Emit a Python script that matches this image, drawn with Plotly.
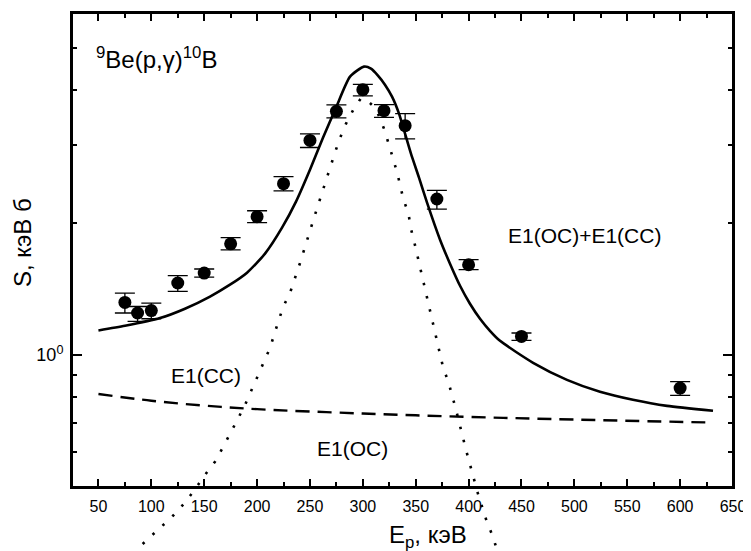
import math
import plotly.graph_objects as go

# ---------------- data ----------------
x_exp = [75, 87, 100, 125, 150, 175, 200, 225, 250, 275, 300, 320, 340, 370, 400, 450, 600]
s_exp = [1.316, 1.245, 1.261, 1.457, 1.535, 1.789, 2.063, 2.452, 3.077, 3.583, 4.015, 3.596,
         3.324, 2.263, 1.603, 1.101, 0.840]
s_hi = [1.382, 1.288, 1.311, 1.514, 1.568, 1.848, 2.128, 2.544, 3.184, 3.706, 4.129, 3.71,
        3.54, 2.367, 1.646, 1.121, 0.869]
s_lo = [1.245, 1.191, 1.208, 1.394, 1.503, 1.734, 2.0, 2.362, 2.964, 3.461, 3.886, 3.47,
        3.10, 2.147, 1.562, 1.078, 0.808]

x_total = [50, 75.1, 108.2, 131.8, 155.5, 174.4, 190.5, 207.5, 223.6, 236.8, 250, 262.3,
           274.6, 287.9, 301.1, 307.7, 314.3, 320.9, 327.6, 334.2, 339.9, 345.5, 353.1,
           360.7, 373, 382.4, 391.9, 401.3, 410.8, 420.2, 429.7, 461, 493, 524.2, 555.4,
           587.6, 631.1]
s_total = [1.136, 1.164, 1.212, 1.273, 1.357, 1.444, 1.538, 1.699, 1.947, 2.232, 2.638,
           3.121, 3.652, 4.298, 4.529, 4.482, 4.321, 4.121, 3.870, 3.540, 3.187, 2.870,
           2.531, 2.220, 1.828, 1.612, 1.436, 1.307, 1.208, 1.134, 1.076, 0.959, 0.877,
           0.824, 0.790, 0.765, 0.746]

x_cc = [50, 100, 150, 200, 300, 400, 500, 630]
s_cc = [0.814, 0.786, 0.766, 0.752, 0.735, 0.722, 0.712, 0.701]

x_oc = [91.8, 105.6, 119.3, 130.9, 141.3, 150.8, 160.2, 168.1, 176, 182.3, 188.6, 194.9,
        201.2, 205.9, 212.2, 220.1, 224.8, 231.1, 235.8, 240.6, 254.8, 261.4, 268.9, 273.7,
        278.4, 284.1, 291, 298, 303.7, 309, 314.7, 320.1, 324.2, 328.3, 332.1, 335.2, 338.4,
        343.1, 345.3, 348.5, 351.6, 354.8, 357.9, 365.4, 372.9, 376, 380.8, 388.1, 397.5,
        408.7, 417.2, 422.9, 426.6]
s_oc = [0.371, 0.398, 0.427, 0.458, 0.494, 0.533, 0.571, 0.618, 0.669, 0.718, 0.769, 0.829,
        0.901, 0.957, 1.036, 1.191, 1.288, 1.382, 1.495, 1.618, 2.085, 2.338, 2.685, 2.889,
        3.116, 3.359, 3.615, 3.83, 3.80, 3.70, 3.52, 3.267, 3.035, 2.82, 2.616, 2.439, 2.255,
        2.102, 1.944, 1.812, 1.681, 1.568, 1.457, 1.214, 1.009, 0.933, 0.869, 0.75, 0.608,
        0.484, 0.417, 0.386, 0.361]

x_tick_vals = list(range(50, 651, 50))
y_major_vals = [1]
y_major_text = ["10<sup>0</sup>"]
y_minor_vals = [0.5, 0.6, 0.7, 0.8, 0.9, 2, 3, 4, 5]

# ---------------- layout geometry ----------------
OFF = 8                      # page body margin of the html page
W, H = 751 - OFF, 551 - OFF
FRAME_L, FRAME_R, FRAME_T, FRAME_B = 72 - OFF, 733 - OFF, 13 - OFF, 487 - OFF
ML, MR, MT, MB = FRAME_L, W - FRAME_R, FRAME_T, 0
plot_h = H - MT - MB
main_bottom = (H - FRAME_B) / plot_h
x_range = [25, 650]
y_lo, y_hi = math.log10(0.5), math.log10(6)
frame_h = FRAME_B - FRAME_T
y2_lo = y_lo - (H - FRAME_B) / frame_h * (y_hi - y_lo)

FONT = "Liberation Sans, Arial, Helvetica, sans-serif"

err_plus = [h - v for h, v in zip(s_hi, s_exp)]
err_minus = [v - l for v, l in zip(s_exp, s_lo)]

fig = go.Figure()

fig.add_trace(go.Scatter(
    x=x_cc, y=s_cc, mode="lines", line=dict(color="black", width=2.4, dash="14px,8px"),
    line_shape="spline", showlegend=False, xaxis="x", yaxis="y"))
fig.add_trace(go.Scatter(
    x=x_total, y=s_total, mode="lines", line=dict(color="black", width=2.6),
    line_shape="spline", line_smoothing=0.6, showlegend=False, xaxis="x", yaxis="y"))
fig.add_trace(go.Scatter(
    x=x_exp, y=s_exp, mode="markers",
    marker=dict(color="black", size=13, symbol="circle"),
    error_y=dict(type="data", symmetric=False, array=err_plus, arrayminus=err_minus,
                 color="black", thickness=1.3, width=10),
    showlegend=False, xaxis="x", yaxis="y"))
fig.add_trace(go.Scatter(
    x=x_oc, y=s_oc, mode="lines", line=dict(color="black", width=2.6, dash="2.5px,11px"),
    showlegend=False, xaxis="x2", yaxis="y2"))

axis_common = dict(showline=True, linecolor="black", linewidth=2, mirror="ticks",
                   ticks="inside", tickcolor="black", showgrid=False, zeroline=False,
                   automargin=False)

fig.update_layout(
    width=W, height=H,
    margin=dict(l=ML, r=MR, t=MT, b=MB, pad=0),
    paper_bgcolor="white", plot_bgcolor="rgba(0,0,0,0)",
    font=dict(family=FONT, color="black"),
    xaxis=dict(**axis_common, range=x_range, domain=[0, 1], anchor="y",
               tickmode="array", tickvals=x_tick_vals, ticklen=8, tickwidth=1.5,
               tickfont=dict(size=16), ticklabelstandoff=4,
               minor=dict(dtick=25, tick0=0, ticklen=5, tickwidth=1.5, ticks="inside",
                          tickcolor="black")),
    yaxis=dict(**axis_common, type="log", range=[y_lo, y_hi], domain=[main_bottom, 1],
               anchor="x", tickmode="array", tickvals=y_major_vals, ticktext=y_major_text,
               ticklen=10, tickwidth=1.5, tickfont=dict(size=18), ticklabelstandoff=3,
               minor=dict(tickmode="array", tickvals=y_minor_vals, ticklen=5,
                          tickwidth=1.5, ticks="inside", tickcolor="black")),
    xaxis2=dict(range=x_range, domain=[0, 1], anchor="y2", visible=False,
                showgrid=False, zeroline=False),
    yaxis2=dict(type="log", range=[y2_lo, y_hi], domain=[0, 1], anchor="x2",
                visible=False, showgrid=False, zeroline=False),
    shapes=[dict(type="rect", xref="x domain", yref="y domain", x0=0, x1=1, y0=0, y1=1,
                 line=dict(color="black", width=2), fillcolor="rgba(0,0,0,0)",
                 layer="above")],
)

def px_x(p):
    """page pixel x -> paper fraction"""
    return (p - OFF - ML) / (W - ML - MR)

def px_y(p):
    """page pixel y -> paper fraction"""
    return (H - MB - (p - OFF)) / plot_h

annotations = [
    dict(text="<sup>9</sup>Be(p,γ)<sup>10</sup>B", xref="x", yref="y", x=46,
         y=math.log10(4.75), xanchor="left", yanchor="middle", showarrow=False,
         font=dict(size=24)),
    dict(text="E1(OC)+E1(CC)", xref="x", yref="y", x=435, y=math.log10(1.87),
         xanchor="left", yanchor="middle", showarrow=False, font=dict(size=21)),
    dict(text="E1(CC)", xref="x", yref="y", x=117, y=math.log10(0.895),
         xanchor="left", yanchor="middle", showarrow=False, font=dict(size=21)),
    dict(text="E1(OC)", xref="x", yref="y", x=255, y=math.log10(0.611),
         xanchor="left", yanchor="middle", showarrow=False, font=dict(size=21)),
    dict(text="E<sub>p</sub>, кэВ", xref="paper", yref="paper", x=px_x(427.5),
         y=px_y(536), xanchor="center", yanchor="middle", showarrow=False,
         font=dict(size=24)),
    dict(text="S, кэВ б", xref="paper", yref="paper", x=px_x(22), y=px_y(243),
         xanchor="center", yanchor="middle", showarrow=False, textangle=-90,
         font=dict(size=24)),
]
fig.update_layout(annotations=annotations)

fig.write_html("out.html")
